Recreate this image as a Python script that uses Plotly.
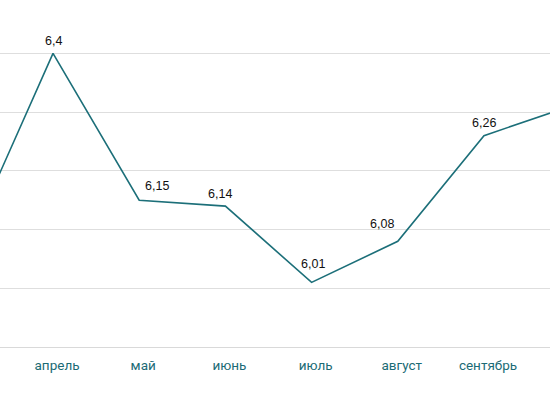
import plotly.graph_objects as go

months = ["март", "апрель", "май", "июнь", "июль", "август", "сентябрь", "октябрь"]
values = [6.07, 6.4, 6.15, 6.14, 6.01, 6.08, 6.26, 6.31]
labelled = [1, 2, 3, 4, 5, 6]
# label offsets in pixels (style)
label_dx = {1: 0, 2: 18, 3: -5, 4: 1, 5: -16, 6: 0}
label_dy = {1: 12, 2: 14, 3: 12, 4: 18, 5: 17, 6: 13}

line_color = "#1c6f79"

fig = go.Figure()
fig.add_trace(go.Scatter(
    x=months, y=values, mode="lines",
    line=dict(color=line_color, width=1.6),
    hoverinfo="skip", showlegend=False,
))

for i in labelled:
    fig.add_annotation(
        x=months[i], y=values[i],
        text=str(values[i]).replace(".", ","),
        showarrow=False,
        xshift=label_dx[i], yshift=label_dy[i],
        font=dict(family="Liberation Sans, Arial, sans-serif", size=12.5, color="#111111"),
        yanchor="middle", xanchor="center",
    )

fig.update_layout(
    width=550, height=410,
    margin=dict(l=0, r=0, t=0, b=63),
    paper_bgcolor="white", plot_bgcolor="white",
    xaxis=dict(
        type="category", range=[0.385, 6.766],
        showgrid=False, zeroline=False,
        showline=True, linecolor="#d9d9d9", linewidth=1,
        ticks="", ticklabelshift=4, ticklabelstandoff=6,
        tickfont=dict(family="Roboto, sans-serif", size=13.5, color="#1b6b75"),
    ),
    yaxis=dict(
        range=[5.9, 6.491], tick0=5.9, dtick=0.1,
        showgrid=True, gridcolor="#dedede", gridwidth=1,
        zeroline=False, showticklabels=False, showline=False,
    ),
)

fig.write_html("out.html")
